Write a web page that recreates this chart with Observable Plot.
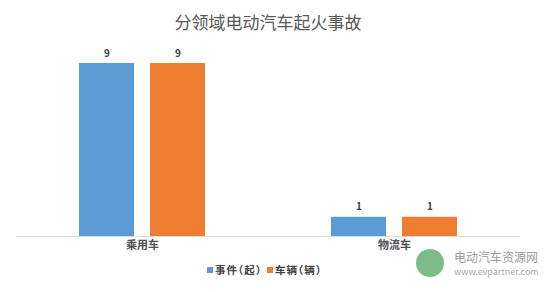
<!DOCTYPE html>
<html><head><meta charset="utf-8">
<script src="https://cdn.jsdelivr.net/npm/d3@7"></script>
<script src="https://cdn.jsdelivr.net/npm/@observablehq/plot@0.6"></script>
<style>
body{margin:0;background:#fff;font-family:"Noto Sans CJK SC",sans-serif;}
#wrap{position:relative;width:553px;height:292px;overflow:hidden;}
#title{height:40px;line-height:44px;text-align:center;font-size:17px;color:#595959;width:536px;}
#legend{position:absolute;left:207px;top:262px;display:flex;align-items:center;font-size:10.5px;color:#404040;font-weight:bold;font-feature-settings:"halt";letter-spacing:1px;}
#legend .sw{width:6px;height:6px;display:inline-block;margin-right:2px;}
#legend .it{display:flex;align-items:center;margin-right:5px;}
#wm{position:absolute;left:416px;top:248px;display:flex;align-items:center;}
#wm .logo{width:28px;height:28px;border-radius:50%;background:#7dbb87;margin-right:10px;}
#wm .t1{font-size:12px;color:#9a9a9a;line-height:18px;}
#wm .t2{font-size:9px;color:#a8a8a8;line-height:12px;}
</style></head>
<body>
<div id="wrap">
<div id="title">分领域电动汽车起火事故</div>
<div id="chart"></div>
<div id="legend"></div>
<div id="wm"><div class="logo"></div><div><div class="t1">电动汽车资源网</div><div class="t2">www.evpartner.com</div></div></div>
</div>
<script>
const categories = ["乘用车", "物流车"];
const seriesNames = ["事件（起）", "车辆（辆）"];
const events = [9, 1];
const vehicles = [9, 1];
const colors = ["#5B9BD5", "#ED7D31"];

const data = [];
categories.forEach((c, i) => {
  data.push({cat: c, series: seriesNames[0], value: events[i]});
  data.push({cat: c, series: seriesNames[1], value: vehicles[i]});
});

const chart = Plot.plot({
  width: 553,
  height: 215,
  marginLeft: 16,
  marginRight: 33,
  marginTop: 23,
  marginBottom: 19,
  style: {fontFamily: "Noto Sans CJK SC, sans-serif", background: "transparent"},
  fx: {domain: categories, padding: 0, label: null, axis: "bottom", tickSize: 0, tickPadding: 5},
  x: {domain: seriesNames, paddingInner: 0.225, paddingOuter: 0.887, axis: null},
  y: {domain: [0, 9], axis: null},
  color: {domain: seriesNames, range: colors},
  marks: [
    Plot.barY(data, {fx: "cat", x: "series", y: "value", fill: "series"}),
    Plot.ruleY([0], {stroke: "#d9d9d9", strokeWidth: 1}),
    Plot.text(data, {fx: "cat", x: "series", y: "value", text: d => String(d.value), dy: -10, fontSize: 10, fontWeight: "bold", fill: "#404040"})
  ]
});
const fxg = chart.querySelector('g[aria-label="fx-axis tick label"]');
if (fxg) { fxg.setAttribute("font-size", "11"); fxg.setAttribute("font-weight", "bold"); fxg.setAttribute("fill", "#505050"); }
document.getElementById("chart").appendChild(chart);

const lg = document.getElementById("legend");
seriesNames.forEach((s, i) => {
  const it = document.createElement("div"); it.className = "it";
  const sw = document.createElement("span"); sw.className = "sw"; sw.style.background = colors[i];
  const t = document.createElement("span"); t.textContent = s;
  it.appendChild(sw); it.appendChild(t); lg.appendChild(it);
});
</script>
</body></html>
